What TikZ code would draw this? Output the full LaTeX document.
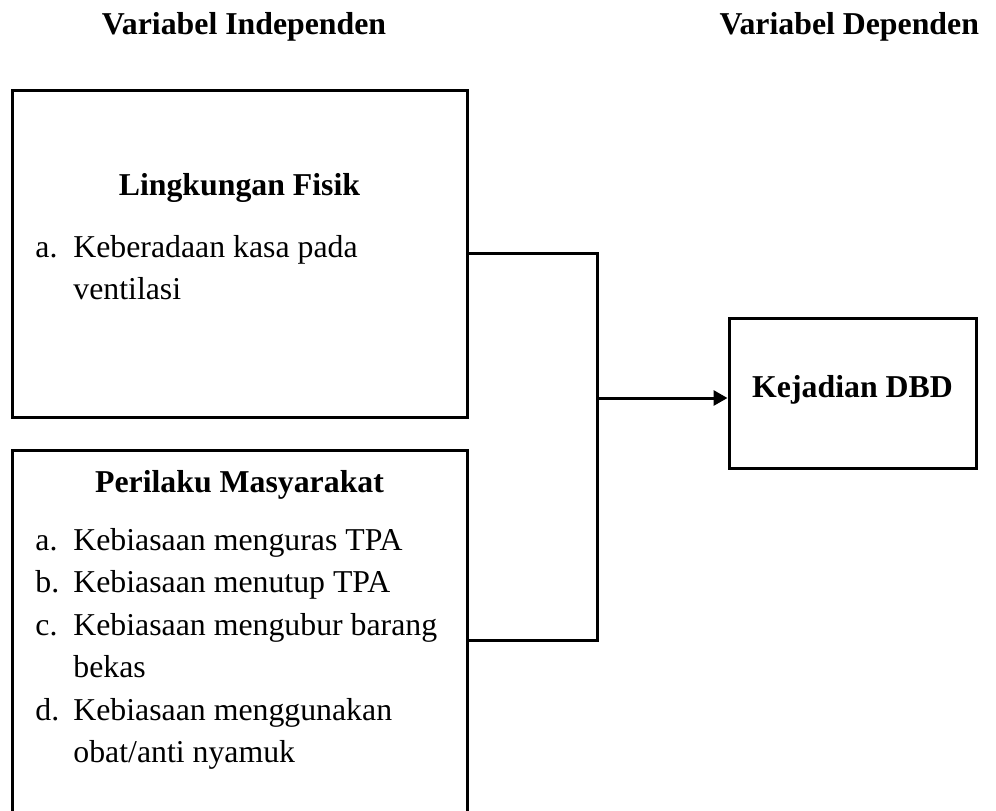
\documentclass[tikz,border=0pt]{standalone}
\usepackage{fontspec}
\setmainfont{Liberation Serif}
\usepackage{tikz}
\usetikzlibrary{arrows.meta, positioning, calc}

\begin{document}
\begin{tikzpicture}[x=0.5pt, y=-0.5pt,
   varbox/.style={draw, rectangle, line width=1.5pt, inner sep=0pt},
   link/.style={line width=1.5pt},
   every node/.style={font=\fontsize{15.9}{21.25}\selectfont}]
\useasboundingbox (0,0) rectangle (996,810);

% Headings
\node[anchor=base, font=\fontsize{15.9}{21.25}\selectfont\bfseries] (indep) at (244,34) {Variabel Independen};
\node[anchor=base east, font=\fontsize{15.9}{21.25}\selectfont\bfseries] (dep) at (986,34) {Variabel Dependen};

% Lingkungan fisik
\node[varbox, minimum width=227.5pt, minimum height=163.5pt] (fisik) at (239.5,253.5) {};
\node[anchor=base, font=\fontsize{15.9}{21.25}\selectfont\bfseries] (fisiktitle) at (239.5,195) {Lingkungan Fisik};
\node[anchor=base west, inner sep=0pt] (fisikitems) at (35,257)
   {\begin{tabular}[t]{@{}p{19pt}@{}l@{}}
    a. & Keberadaan kasa pada\\
       & ventilasi
    \end{tabular}};

% Perilaku masyarakat
\node[varbox, minimum width=227.5pt, minimum height=190pt] (perilaku) at (239.5,640) {};
\node[anchor=base, font=\fontsize{15.9}{21.25}\selectfont\bfseries] (perilakutitle) at (239.5,492) {Perilaku Masyarakat};
\node[anchor=base west, inner sep=0pt] (perilakuitems) at (35,550)
   {\begin{tabular}[t]{@{}p{19pt}@{}l@{}}
    a. & Kebiasaan menguras TPA\\
    b. & Kebiasaan menutup TPA\\
    c. & Kebiasaan mengubur barang\\
       & bekas\\
    d. & Kebiasaan menggunakan\\
       & obat/anti nyamuk
    \end{tabular}};

% Kejadian DBD
\node[varbox, minimum width=123.5pt, minimum height=75pt] (dbd) at (852.5,393) {};
\node[anchor=base, font=\fontsize{15.9}{21.25}\selectfont\bfseries] (dbdtitle) at (852.5,397) {Kejadian DBD};

% Connectors
\coordinate (join) at (597,398);
\draw[link] (fisik.east) -| (join);
\draw[link] (perilaku.east) -| (join);
\draw[link, -{Triangle[length=7pt, width=7.5pt]}] (join) -- (join -| dbd.west);
\end{tikzpicture}
\end{document}
